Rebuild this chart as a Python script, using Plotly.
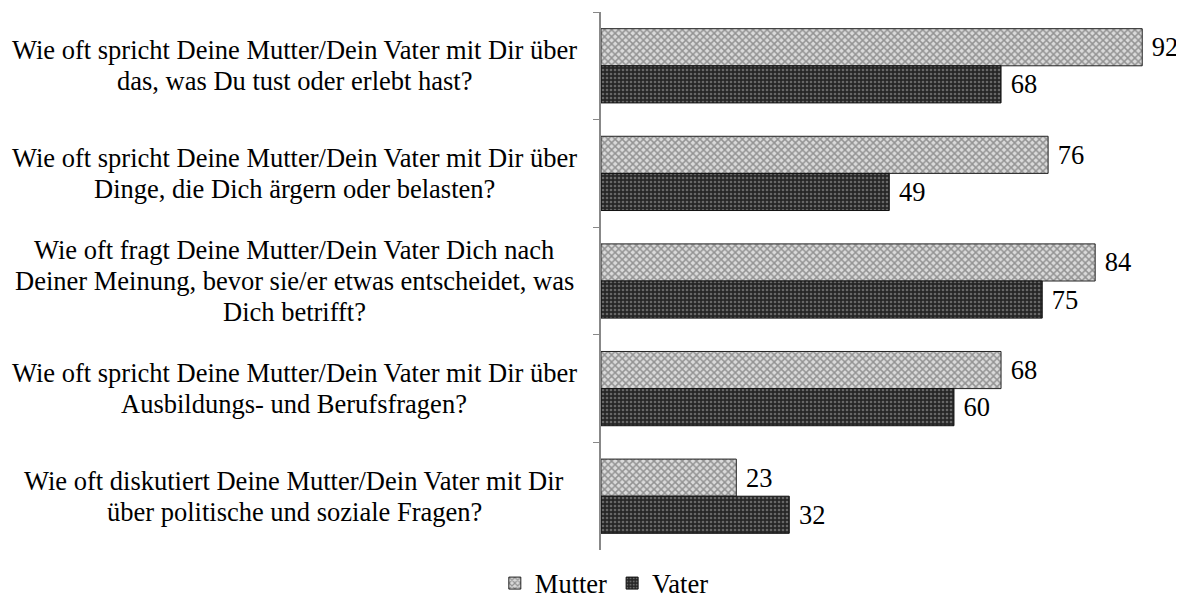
import plotly.graph_objects as go

categories = [
    "Wie oft spricht Deine Mutter/Dein Vater mit Dir über<br>das, was Du tust oder erlebt hast?",
    "Wie oft spricht Deine Mutter/Dein Vater mit Dir über<br>Dinge, die Dich ärgern oder belasten?",
    "Wie oft fragt Deine Mutter/Dein Vater Dich nach<br>Deiner Meinung, bevor sie/er etwas entscheidet, was<br>Dich betrifft?",
    "Wie oft spricht Deine Mutter/Dein Vater mit Dir über<br>Ausbildungs- und Berufsfragen?",
    "Wie oft diskutiert Deine Mutter/Dein Vater mit Dir<br>über politische und soziale Fragen?",
]
keys = ["c1", "c2", "c3", "c4", "c5"]
mutter = [92, 76, 84, 68, 23]
vater = [68, 49, 75, 60, 32]

FONT = "Liberation Serif, Times New Roman, serif"
FS = 26.5

fig = go.Figure()
fig.add_trace(go.Bar(
    name="Mutter", y=keys, x=mutter, orientation="h",
    text=["\u00a0" + str(v) for v in mutter], textposition="outside", cliponaxis=False,
    textfont=dict(family=FONT, size=FS, color="black"),
    marker=dict(color="#b0b0b0",
                line=dict(color="#222222", width=1),
                pattern=dict(shape="x", fgcolor="#4c4c4c", bgcolor="#dadada", size=5, solidity=0.5)),
))
fig.add_trace(go.Bar(
    name="Vater", y=keys, x=vater, orientation="h",
    text=["\u00a0" + str(v) for v in vater], textposition="outside", cliponaxis=False,
    textfont=dict(family=FONT, size=FS, color="black"),
    marker=dict(color="#262626",
                line=dict(color="#111111", width=1),
                pattern=dict(shape=".", fgcolor="#a8a8a8", bgcolor="#262626", size=4, solidity=0.35)),
))

LINE = 31
for k, c in zip(keys, categories):
    lines = c.split("<br>")
    n = len(lines)
    for i, ln in enumerate(lines):
        fig.add_annotation(
            x=-0.555, xref="x domain", y=k, yref="y", text=ln, showarrow=False,
            xanchor="center", yanchor="middle", align="center",
            yshift=((n - 1) / 2 - i) * LINE,
            font=dict(family=FONT, size=FS, color="black"),
        )

fig.update_layout(
    width=1176, height=592,
    margin=dict(l=593, r=30, t=4, b=50, autoexpand=False),
    barmode="group", bargap=0.31, bargroupgap=0,
    plot_bgcolor="white", paper_bgcolor="white",
    showlegend=True,
    legend=dict(orientation="h", x=0.006, xref="paper", xanchor="center", y=-0.062, yanchor="middle",
                font=dict(family=FONT, size=FS, color="black"), itemwidth=30, tracegroupgap=0),
    xaxis=dict(range=[0, 94], showgrid=False, zeroline=False, showticklabels=False, showline=False),
    yaxis=dict(autorange="reversed", showticklabels=False, showline=True, linecolor="#888888",
               linewidth=2, ticks="outside", tickson="boundaries", ticklen=6, tickcolor="#888888",
               showgrid=False),
)

fig.write_html("out.html")
